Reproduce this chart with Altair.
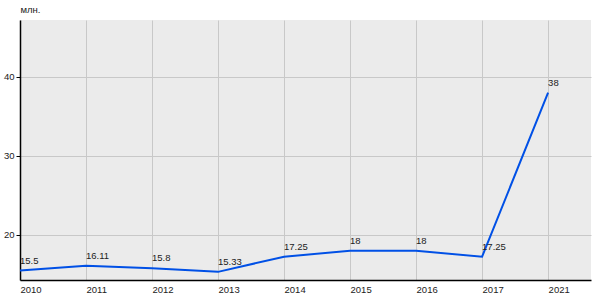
import altair as alt
import pandas as pd

years = ["2010", "2011", "2012", "2013", "2014", "2015", "2016", "2017", "2021"]
values = [15.5, 16.11, 15.8, 15.33, 17.25, 18, 18, 17.25, 38]
labels = ["15.5", "16.11", "15.8", "15.33", "17.25", "18", "18", "17.25", "38"]

df = pd.DataFrame({"idx": list(range(len(years))), "year": years, "value": values, "label": labels})

label_expr = "[" + ",".join(f"'{y}'" for y in years) + "][datum.value]"

FS = 9.5

x = alt.X("idx:Q", scale=alt.Scale(domain=[0, 8.65], nice=False, zero=False),
          axis=alt.Axis(values=list(range(len(years))), labelExpr=label_expr, title=None,
                        grid=True, gridColor="#c8c8c8", ticks=False, labelAlign="left",
                        labelPadding=4, domainColor="#000000", domainWidth=1.5,
                        labelFont="Liberation Sans", labelFontSize=FS, labelColor="#222222"))
y = alt.Y("value:Q", scale=alt.Scale(domain=[14.3, 47.2], nice=False, zero=False),
          axis=alt.Axis(values=[20, 30, 40], title="млн.", titleAngle=0, titleX=0, titleY=-6,
                        titleAlign="left", titleBaseline="bottom", titleFont="Liberation Sans",
                        titleFontSize=FS, titleFontWeight="normal", titleColor="#222222",
                        grid=True, gridColor="#c8c8c8", tickSize=4, tickColor="#000000",
                        labelPadding=2, domainColor="#000000", domainWidth=1.5,
                        labelFont="Liberation Sans", labelFontSize=FS, labelColor="#222222"))

line = alt.Chart(df).mark_line(color="#0050e6", strokeWidth=2).encode(x=x, y=y)
text = alt.Chart(df).mark_text(align="left", baseline="bottom", dx=0, dy=-5,
                               font="Liberation Sans", fontSize=FS, color="#222222").encode(
    x="idx:Q", y="value:Q", text="label:N")

chart = (line + text).properties(
    width=571, height=260,
    autosize=alt.AutoSizeParams(type="none"),
    padding={"left": 20, "top": 20, "right": 9, "bottom": 20},
    background="#ffffff",
).configure_view(fill="#ebebeb", stroke=None)

chart.save("out.html", embed_options={"renderer": "svg", "actions": False})
